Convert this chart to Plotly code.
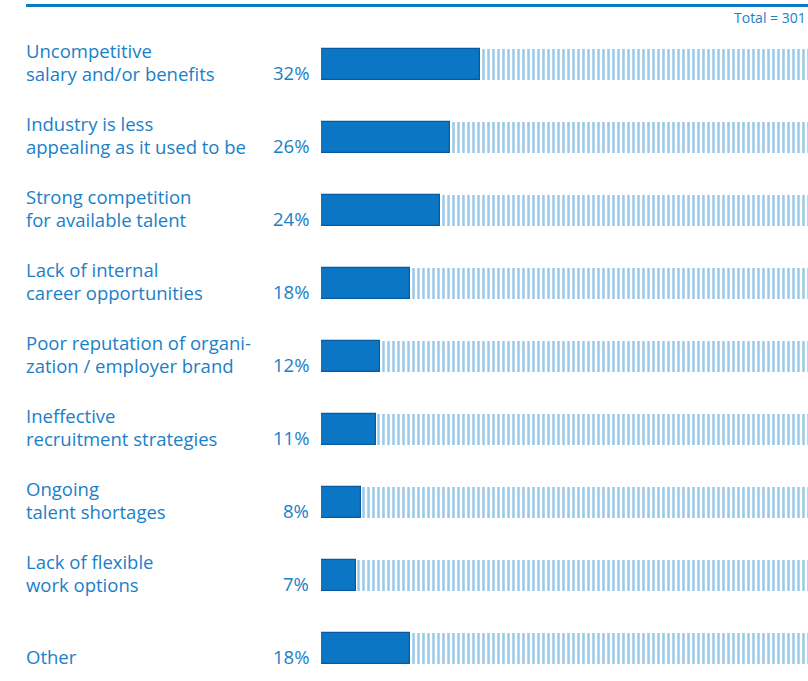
import plotly.graph_objects as go

# Reasons cited, top to bottom, with share of respondents (%)
categories = [
    "Uncompetitive<br>salary and/or benefits",
    "Industry is less<br>appealing as it used to be",
    "Strong competition<br>for available talent",
    "Lack of internal<br>career opportunities",
    "Poor reputation of organi-<br>zation / employer brand",
    "Ineffective<br>recruitment strategies",
    "Ongoing<br>talent shortages",
    "Lack of flexible<br>work options",
    "Other",
]
values = [32, 26, 24, 18, 12, 11, 8, 7, 18]
total_label = "Total = 301"

W, H = 808, 681
ML, MT = 321, 28
plot_w = W - ML
plot_h = H - MT
row_px = 73            # vertical pitch of the rows in pixels
full_px = 495.5        # pixel length of 100 %

x_max = plot_w / full_px * 100
y_top = -0.5
y_bot = y_top + plot_h / row_px

TEXT = "#1a80c8"
FONT = "Open Sans"
FS = 18.5
FS_LEAD = 17.7         # sets the line pitch (1.3 x size) of two-line labels

pos = list(range(len(values)))
rest = [100 - v for v in values]

fig = go.Figure()

# remainder up to 100 %: fine vertical hatching
fig.add_trace(go.Bar(
    y=pos, x=rest, base=values, orientation="h",
    width=31 / row_px,
    marker=dict(
        color="white",
        line=dict(width=0),
        pattern=dict(shape="|", size=5, solidity=0.5,
                     fgcolor="#3593d6", bgcolor="white", fillmode="overlay"),
    ),
    hoverinfo="skip", showlegend=False,
))

# filled share
fig.add_trace(go.Bar(
    y=pos, x=values, orientation="h",
    width=31 / row_px,
    marker=dict(color="#0b76c4", line=dict(color="#0759a3", width=1.2)),
    hoverinfo="skip", showlegend=False,
))

annotations = []
for i, (lab, v) in enumerate(zip(categories, values)):
    lines = lab.split("<br>")
    if len(lines) > 1:
        txt = "<br>".join(f'<span style="font-size:{FS}px">{t}</span>' for t in lines)
        annotations.append(dict(
            xref="paper", yref="y", x=(24 - ML) / plot_w, y=i,
            xanchor="left", yanchor="middle", align="left",
            text=txt, showarrow=False, yshift=3,
            font=dict(family=FONT, size=FS_LEAD, color=TEXT),
        ))
    else:
        annotations.append(dict(
            xref="paper", yref="y", x=(24 - ML) / plot_w, y=i,
            xanchor="left", yanchor="middle", align="left",
            text=lab, showarrow=False, yshift=-8,
            font=dict(family=FONT, size=FS, color=TEXT),
        ))
    annotations.append(dict(
        xref="paper", yref="y", x=(311 - ML) / plot_w, y=i,
        xanchor="right", yanchor="middle", align="right",
        text=f"{v}%", showarrow=False, yshift=-8,
        font=dict(family=FONT, size=FS, color=TEXT),
    ))

annotations.append(dict(
    xref="paper", yref="paper", x=1.0, y=1 + (MT - 18) / plot_h,
    xanchor="right", yanchor="middle", text=total_label, showarrow=False,
    font=dict(family=FONT, size=14, color=TEXT),
))

fig.update_layout(
    width=W, height=H,
    margin=dict(l=ML, r=0, t=MT, b=0),
    paper_bgcolor="white", plot_bgcolor="white",
    barmode="overlay", bargap=0,
    xaxis=dict(range=[0, x_max], visible=False, fixedrange=True),
    yaxis=dict(range=[y_bot, y_top], visible=False, fixedrange=True),
    annotations=annotations,
    shapes=[dict(
        type="line", xref="paper", yref="paper",
        x0=(26 - ML) / plot_w, x1=1.0,
        y0=1 + (MT - 5.5) / plot_h, y1=1 + (MT - 5.5) / plot_h,
        line=dict(color="#0a7ac6", width=3),
    )],
)

fig.write_html("out.html")
